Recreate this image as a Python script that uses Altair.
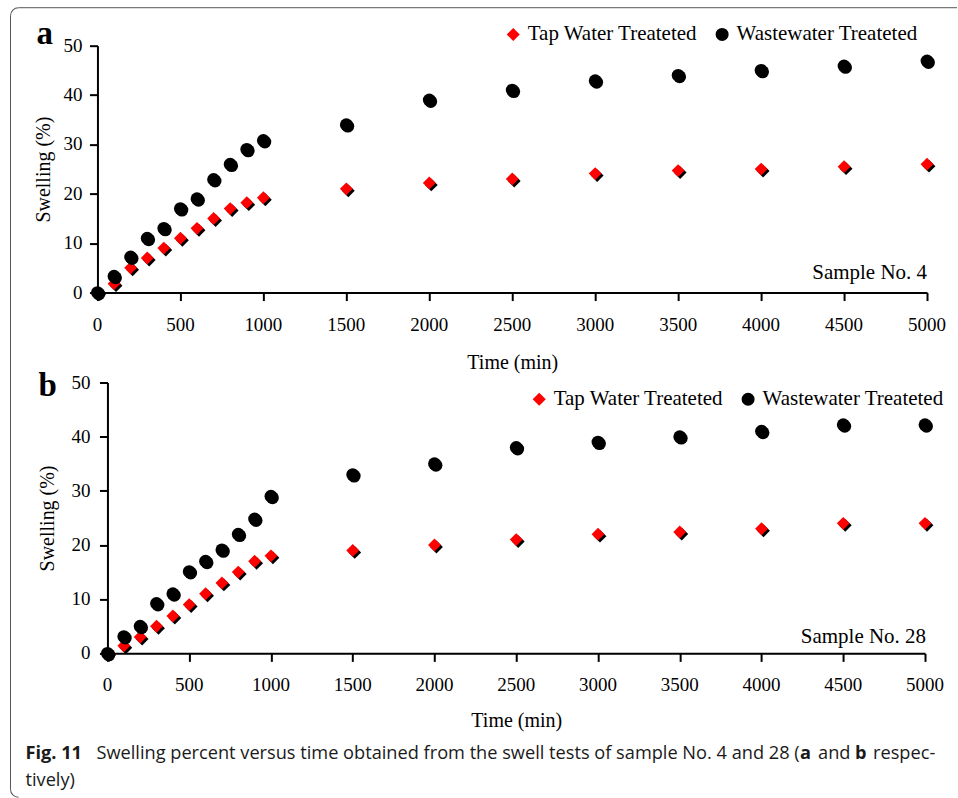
import altair as alt
import pandas as pd

# ---------------- data ----------------
time_min = [0, 100, 200, 300, 400, 500, 600, 700, 800, 900, 1000,
            1500, 2000, 2500, 3000, 3500, 4000, 4500, 5000]
a_tap = [0, 1.8, 5.0, 7.0, 9.0, 11.0, 13.0, 15.0, 17.0, 18.2, 19.2,
         21.0, 22.2, 23.0, 24.1, 24.7, 25.0, 25.5, 26.0]
a_waste = [0, 3.3, 7.2, 11.0, 13.0, 17.0, 19.0, 22.9, 26.0, 29.0, 30.8,
           34.0, 39.0, 41.0, 42.9, 44.0, 45.0, 45.9, 46.9]
b_tap = [0, 1.4, 3.0, 5.0, 6.9, 9.0, 11.0, 13.0, 15.0, 17.0, 18.0,
         19.0, 20.0, 21.0, 22.0, 22.4, 23.0, 24.0, 24.0]
b_waste = [0, 3.1, 5.0, 9.2, 11.0, 15.1, 17.0, 19.1, 22.0, 24.8, 29.0,
           33.0, 35.0, 38.0, 39.0, 40.0, 41.0, 42.2, 42.2]
series_names = ["Tap Water Treateted", "Wastewater Treateted"]
x_ticks = [0, 500, 1000, 1500, 2000, 2500, 3000, 3500, 4000, 4500, 5000]
y_ticks = [0, 10, 20, 30, 40, 50]
caption_parts = ["Fig. 11",
                 "Swelling percent versus time obtained from the swell tests of sample No. 4 and 28 (",
                 "a", "and", "b", "respec-", "tively)"]

SERIF = "Liberation Serif"
SANS = "Open Sans"
RED = "#ff0000"
BORDER = "#555555"
MS = 165  # marker size
TICK_FS = 19


def one(v):
    return pd.DataFrame({"t": [v]})


def panel(tap, waste, width, height, xrange, yoff, ylab_x, ytitlepad, xtitlepad,
          letter, letter_xy, sample, sample_xy, legend_xy):
    n = len(time_min)
    df = pd.DataFrame({
        "time": time_min * 2,
        "swell": tap + waste,
        "series": [series_names[0]] * n + [series_names[1]] * n,
    })
    xscale = alt.Scale(domain=[0, 5000], range=xrange, nice=False, zero=False)
    yscale = alt.Scale(domain=[0, 50], nice=False)
    x = alt.X("time:Q", scale=xscale,
              axis=alt.Axis(values=x_ticks, title="Time (min)", labels=False,
                            titleFont=SERIF, titleFontSize=20, titleFontWeight="normal",
                            titleColor="black", titlePadding=xtitlepad,
                            domainColor="black", domainWidth=2,
                            tickColor="black", tickWidth=2, tickSize=8, grid=False))
    y = alt.Y("swell:Q", scale=yscale,
              axis=alt.Axis(values=y_ticks, title="Swelling (%)", offset=yoff, labels=False,
                            titleFont=SERIF, titleFontSize=20, titleFontWeight="normal",
                            titleColor="black", titlePadding=ytitlepad,
                            domainColor="black", domainWidth=2,
                            tickColor="black", tickWidth=2, tickSize=8, grid=False))
    leg = alt.Legend(title=None, orient="none", legendX=legend_xy[0], legendY=legend_xy[1],
                     direction="horizontal", columns=2, padding=0, columnPadding=14,
                     labelFont=SERIF, labelFontSize=21, labelColor="black",
                     labelOffset=4, symbolSize=170, symbolStrokeWidth=0, labelLimit=400)
    color = alt.Color("series:N", scale=alt.Scale(domain=series_names, range=[RED, "black"]),
                      legend=leg)
    shape = alt.Shape("series:N", scale=alt.Scale(domain=series_names, range=["diamond", "circle"]),
                      legend=leg)

    base = alt.Chart(df)
    tap_sh = base.transform_filter(alt.datum.series == series_names[0]).mark_point(
        shape="diamond", filled=True, color="black", size=MS, opacity=1, xOffset=2, yOffset=2
    ).encode(x=x, y=y)
    tap_main = base.transform_filter(alt.datum.series == series_names[0]).mark_point(
        filled=True, size=MS, opacity=1
    ).encode(x=x, y=y, color=color, shape=shape)
    ww_sh = base.transform_filter(alt.datum.series == series_names[1]).mark_point(
        shape="circle", filled=True, color="black", size=MS, opacity=1, xOffset=1.5, yOffset=1.5
    ).encode(x=x, y=y)
    ww_main = base.transform_filter(alt.datum.series == series_names[1]).mark_point(
        filled=True, size=MS, opacity=1
    ).encode(x=x, y=y, color=color, shape=shape)

    # tick labels (serif) drawn through the panel's scales
    xlab = alt.Chart(pd.DataFrame({"v": x_ticks})).mark_text(
        font=SERIF, fontSize=TICK_FS, color="black", align="center", baseline="top"
    ).encode(x=alt.X("v:Q", scale=xscale), y=alt.value(height + 8 + 15), text=alt.Text("v:Q", format="d"))
    ylab = alt.Chart(pd.DataFrame({"v": y_ticks})).mark_text(
        font=SERIF, fontSize=TICK_FS, color="black", align="right", baseline="middle"
    ).encode(y=alt.Y("v:Q", scale=yscale), x=alt.value(ylab_x), text=alt.Text("v:Q", format="d"))

    letter_t = alt.Chart(one(letter)).mark_text(
        font=SERIF, fontSize=33, fontWeight="bold", color="black", align="left", baseline="alphabetic"
    ).encode(text="t:N", x=alt.value(letter_xy[0]), y=alt.value(letter_xy[1]))
    sample_t = alt.Chart(one(sample)).mark_text(
        font=SERIF, fontSize=21, color="black", align="right", baseline="alphabetic"
    ).encode(text="t:N", x=alt.value(sample_xy[0]), y=alt.value(sample_xy[1]))

    layers = [tap_sh, tap_main, ww_sh, ww_main, xlab, ylab, letter_t, sample_t]
    return layers, width, height


# ---------- panel a ----------
la, wa, ha = panel(a_tap, a_waste, 830, 247, [0, 830], 0, -15, 35, 51,
                   "a", (-61, -2), "Sample No. 4", (830, 233), (405.5, -22))

# figure border (panel a coordinates; plot origin at page (97, 45))
border = [
    alt.Chart(one(0)).mark_rule(color=BORDER, strokeWidth=1).encode(
        x=alt.value(-87), y=alt.value(-30), y2=alt.value(744)),
    alt.Chart(one(0)).mark_rule(color=BORDER, strokeWidth=1).encode(
        x=alt.value(-79), x2=alt.value(860), y=alt.value(-38)),
    alt.Chart(one(0)).mark_arc(color=BORDER, radius=8.5, radius2=7.5,
                               theta=4.712389, theta2=6.283185).encode(
        x=alt.value(-79), y=alt.value(-30)),
    alt.Chart(one(0)).mark_arc(color=BORDER, radius=8.5, radius2=7.5,
                               theta=3.141593, theta2=4.712389).encode(
        x=alt.value(-79), y=alt.value(744)),
]
chart_a = alt.layer(*(la + border)).properties(width=wa, height=ha)

# ---------- panel b ----------
lb, wb, hb = panel(b_tap, b_waste, 828, 271, [10, 828], -10, -7, 41, 48,
                   "b", (-59, 13), "Sample No. 28", (829, 261), (431.5, 6))


def cap(txt, x, y, bold=False):
    return alt.Chart(one(txt)).mark_text(
        font=SANS, fontSize=18.2, fontWeight="bold" if bold else "normal", color="#1a1a1a",
        align="left", baseline="alphabetic"
    ).encode(text="t:N", x=alt.value(x), y=alt.value(y))


caption = [
    cap(caption_parts[0], -72, 377, True),
    cap(caption_parts[1], -1, 377),
    cap(caption_parts[2], 703, 377, True),
    cap(caption_parts[3], 721, 377),
    cap(caption_parts[4], 758, 377, True),
    cap(caption_parts[5], 776, 377),
    cap(caption_parts[6], -72, 404),
]
chart_b = alt.layer(*(lb + caption)).properties(width=wb, height=hb)

chart = alt.vconcat(chart_a, chart_b, spacing=90, bounds="flush").resolve_scale(
    color="independent", shape="independent"
).properties(
    padding={"left": 9.5, "top": 6.5, "right": 0, "bottom": 0},
    background="white",
).configure(font=SERIF).configure_view(stroke=None)

chart.save("out.html", embed_options={"renderer": "svg", "actions": False})
